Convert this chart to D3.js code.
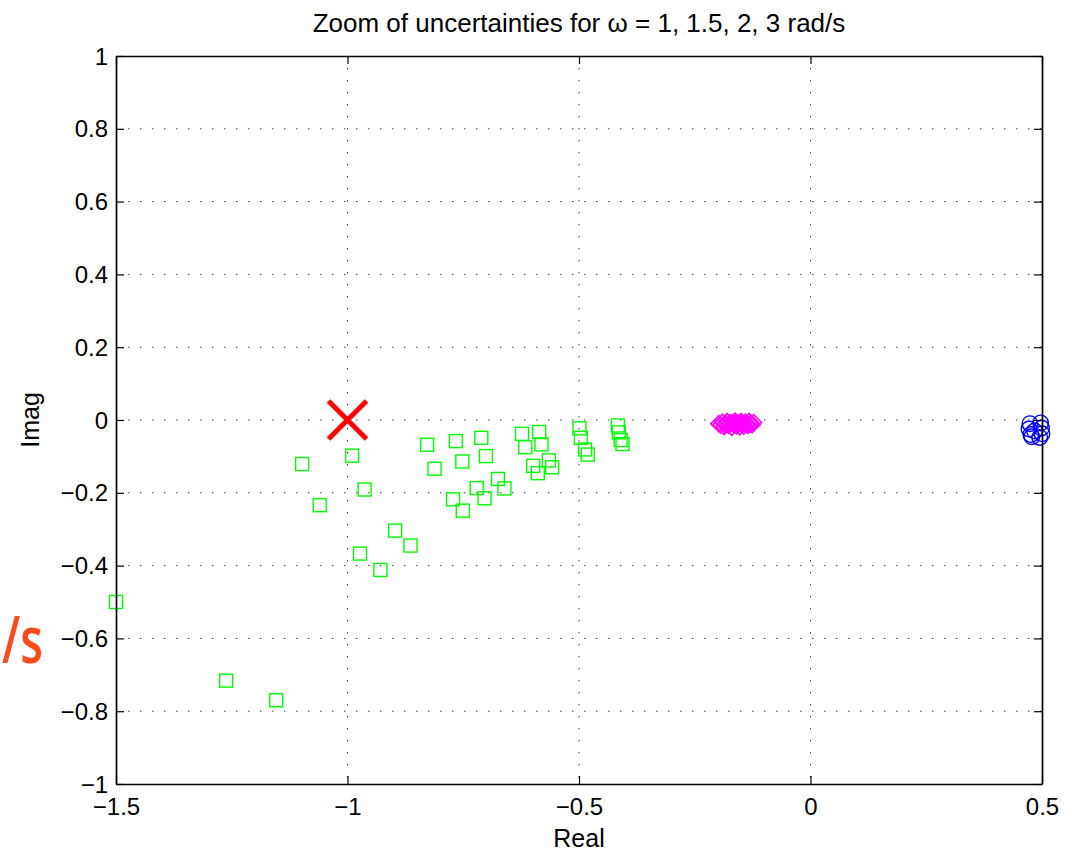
<!doctype html>
<html>
<head>
<meta charset="utf-8">
<title>Zoom of uncertainties</title>
<script src="https://d3js.org/d3.v7.min.js"></script>
<style>
  body { margin: 0; background: #fff; }
  text { font-family: "Liberation Sans", Arial, sans-serif; fill: #000; }
</style>
</head>
<body>
<div id="chart"></div>
<script>
// tick values
const xTicks = [-1.5, -1, -0.5, 0, 0.5];
const yTicks = [-1, -0.8, -0.6, -0.4, -0.2, 0, 0.2, 0.4, 0.6, 0.8, 1];

// critical point (-1, 0)
const critical = [[-1, 0]];

// omega = 1 rad/s  (green squares)
const green = [
  [-1.098, -0.121], [-0.990, -0.098], [-1.060, -0.234], [-0.963, -0.191],
  [-0.828, -0.068], [-0.812, -0.134], [-0.766, -0.058], [-0.752, -0.114],
  [-0.711, -0.049], [-0.701, -0.099], [-0.623, -0.038], [-0.616, -0.075],
  [-0.586, -0.033], [-0.581, -0.067], [-0.599, -0.126], [-0.565, -0.111],
  [-0.589, -0.146], [-0.558, -0.130], [-0.675, -0.162], [-0.661, -0.188],
  [-0.721, -0.187], [-0.704, -0.215], [-0.772, -0.218], [-0.751, -0.249],
  [-0.499, -0.023], [-0.496, -0.049], [-0.487, -0.081], [-0.481, -0.095],
  [-0.416, -0.015], [-0.414, -0.034], [-0.410, -0.055], [-0.406, -0.066],
  [-0.897, -0.304], [-0.864, -0.345], [-0.973, -0.367], [-0.929, -0.412],
  [-1.500, -0.500], [-1.262, -0.716], [-1.154, -0.770]
];

// omega = 1.5 rad/s  (magenta diamonds)
const magenta = [
  [-0.198, -0.010], [-0.194, -0.014], [-0.190, -0.006], [-0.187, -0.018],
  [-0.183, -0.010], [-0.180, -0.004], [-0.177, -0.015], [-0.173, -0.008],
  [-0.170, -0.020], [-0.166, -0.012], [-0.163, -0.003], [-0.160, -0.016],
  [-0.156, -0.008], [-0.153, -0.019], [-0.150, -0.004], [-0.147, -0.012],
  [-0.144, -0.017], [-0.141, -0.006], [-0.138, -0.010], [-0.135, -0.015],
  [-0.132, -0.004], [-0.129, -0.009], [-0.126, -0.013], [-0.123, -0.007],
  [-0.185, -0.013], [-0.175, -0.011], [-0.168, -0.007], [-0.158, -0.011],
  [-0.148, -0.008], [-0.139, -0.013], [-0.130, -0.011], [-0.162, -0.009]
];

// omega = 2 / 3 rad/s  (blue circles)
const blue = [
  [0.474, -0.010], [0.497, -0.008], [0.472, -0.025], [0.499, -0.022],
  [0.476, -0.040], [0.500, -0.038], [0.484, -0.030], [0.495, -0.048],
  [0.478, -0.046]
];

const W = 1080, H = 852;
const margin = { top: 56, right: 38, bottom: 68, left: 116 };
const width = W - margin.left - margin.right;
const height = H - margin.top - margin.bottom;

const x = d3.scaleLinear().domain([-1.5, 0.5]).range([0, width]);
const y = d3.scaleLinear().domain([-1, 1]).range([height, 0]);

const fmt = d => (d < 0 ? '\u2212' : '') + String(Math.abs(d));

const svg = d3.select('#chart').append('svg')
  .attr('width', W).attr('height', H);

const g = svg.append('g')
  .attr('transform', `translate(${margin.left},${margin.top})`);

// dotted grid
g.append('g').selectAll('line').data(xTicks.slice(1, -1)).join('line')
  .attr('x1', d => x(d)).attr('x2', d => x(d))
  .attr('y1', 0).attr('y2', height)
  .attr('stroke', '#444').attr('stroke-width', 1)
  .attr('stroke-dasharray', '1.5,10.5');
g.append('g').selectAll('line').data(yTicks.slice(1, -1)).join('line')
  .attr('y1', d => y(d)).attr('y2', d => y(d))
  .attr('x1', 0).attr('x2', width)
  .attr('stroke', '#444').attr('stroke-width', 1)
  .attr('stroke-dasharray', '1.5,10.5');

// green squares
const sq = 13;
g.append('g').selectAll('rect').data(green).join('rect')
  .attr('x', d => x(d[0]) - sq / 2).attr('y', d => y(d[1]) - sq / 2)
  .attr('width', sq).attr('height', sq)
  .attr('fill', 'none').attr('stroke', '#00ff00').attr('stroke-width', 1.4);

// magenta diamonds
const dm = 8;
g.append('g').selectAll('path').data(magenta).join('path')
  .attr('d', d => {
    const cx = x(d[0]), cy = y(d[1]);
    return `M${cx},${cy - dm}L${cx + dm},${cy}L${cx},${cy + dm}L${cx - dm},${cy}Z`;
  })
  .attr('fill', 'none').attr('stroke', '#ff00ff').attr('stroke-width', 1.6);

// blue circles
g.append('g').selectAll('circle').data(blue).join('circle')
  .attr('cx', d => x(d[0])).attr('cy', d => y(d[1])).attr('r', 7.8)
  .attr('fill', 'none').attr('stroke', '#0000ff').attr('stroke-width', 1.4);

// red cross at -1
const cs = 19;
const cross = g.append('g').selectAll('g').data(critical).join('g')
  .attr('transform', d => `translate(${x(d[0])},${y(d[1])})`);
cross.append('line').attr('x1', -cs).attr('y1', -cs).attr('x2', cs).attr('y2', cs);
cross.append('line').attr('x1', -cs).attr('y1', cs).attr('x2', cs).attr('y2', -cs);
cross.selectAll('line').attr('stroke', '#ff0000').attr('stroke-width', 5);

// axes (box with inside ticks)
const tl = 8;
const axB = g.append('g').attr('transform', `translate(0,${height})`)
  .call(d3.axisBottom(x).tickValues(xTicks).tickFormat(fmt).tickSizeInner(-tl).tickSizeOuter(0).tickPadding(14));
const axT = g.append('g')
  .call(d3.axisTop(x).tickValues(xTicks).tickFormat('').tickSizeInner(-tl).tickSizeOuter(0));
const axL = g.append('g')
  .call(d3.axisLeft(y).tickValues(yTicks).tickFormat(fmt).tickSizeInner(-tl).tickSizeOuter(0).tickPadding(8));
const axR = g.append('g').attr('transform', `translate(${width},0)`)
  .call(d3.axisRight(y).tickValues(yTicks).tickFormat('').tickSizeInner(-tl).tickSizeOuter(0));

[axB, axT, axL, axR].forEach(a => {
  a.select('.domain').attr('stroke', '#000').attr('stroke-width', 1.7);
  a.selectAll('.tick line').attr('stroke', '#000').attr('stroke-width', 1.2);
  a.selectAll('.tick text').style('font-family', '"Liberation Sans", Arial, sans-serif')
    .style('font-size', '24px').attr('fill', '#000');
});
axL.selectAll('.tick text').attr('dy', '0.34em');

// titles
svg.append('text')
  .attr('x', margin.left + width / 2).attr('y', 32)
  .attr('text-anchor', 'middle').style('font-size', '26px')
  .text('Zoom of uncertainties for \u03c9 = 1, 1.5, 2, 3 rad/s');

svg.append('text')
  .attr('x', margin.left + width / 2).attr('y', 847)
  .attr('text-anchor', 'middle').style('font-size', '25px')
  .text('Real');

svg.append('text')
  .attr('transform', `translate(39,${margin.top + height / 2}) rotate(-90)`)
  .attr('text-anchor', 'middle').style('font-size', '25px')
  .text('Imag');

// stray slide fragment at left edge
svg.append('text')
  .attr('x', 2).attr('y', 663)
  .attr('textLength', 41).attr('lengthAdjust', 'spacingAndGlyphs')
  .style('font-family', '"Open Sans", sans-serif')
  .style('font-size', '66px').style('font-weight', '600')
  .style('fill', '#fb4a1c')
  .text('/s');
</script>
</body>
</html>
